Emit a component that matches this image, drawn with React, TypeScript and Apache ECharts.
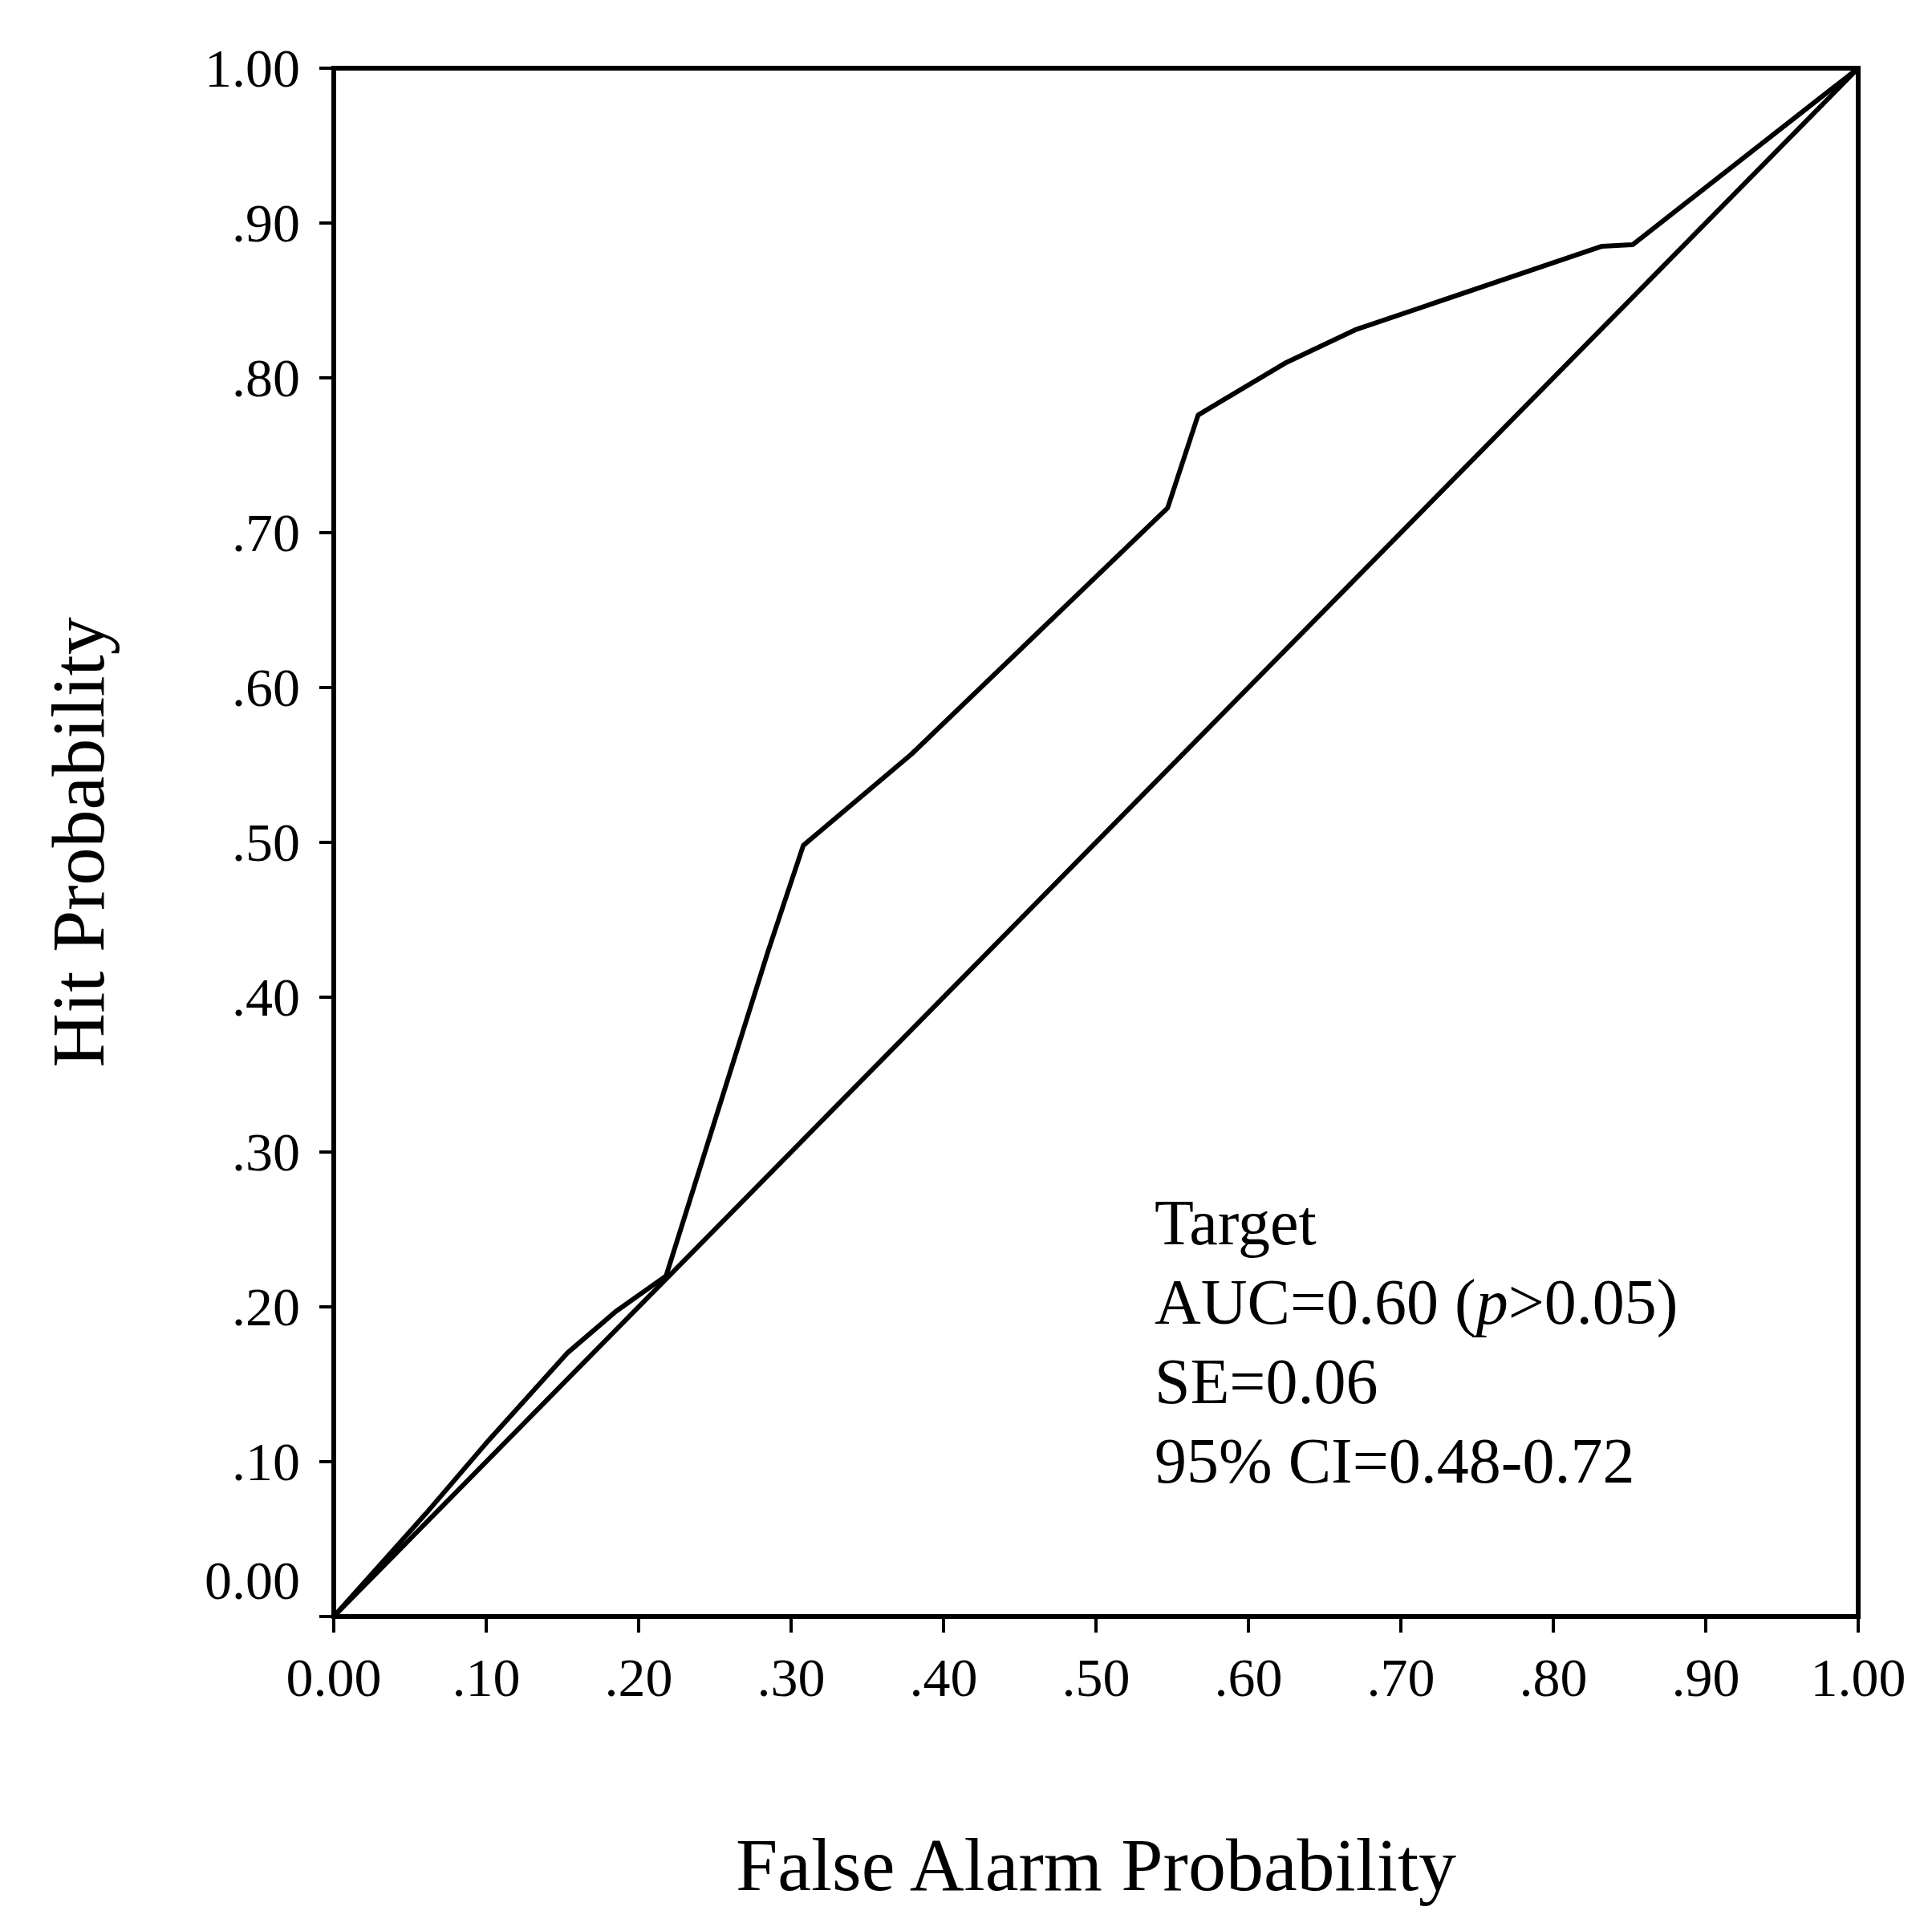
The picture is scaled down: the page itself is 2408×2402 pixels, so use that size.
import React, { useEffect, useRef } from "react";
import * as echarts from "echarts";

// ROC curve (Target)
const rocFalseAlarm = [0, 0.06, 0.10, 0.153, 0.185, 0.218, 0.285, 0.308, 0.379, 0.547, 0.567, 0.625, 0.67, 0.832, 0.852, 1.0];
const rocHit = [0, 0.066, 0.112, 0.170, 0.197, 0.220, 0.43, 0.498, 0.557, 0.716, 0.776, 0.81, 0.831, 0.885, 0.886, 1.0];

// chance diagonal
const chanceX = [0, 1];
const chanceY = [0, 1];

const tickLabels = ["0.00", ".10", ".20", ".30", ".40", ".50", ".60", ".70", ".80", ".90", "1.00"];

const annotationLines = ["Target", "AUC=0.60 ({i|p}>0.05)", "SE=0.06", "95% CI=0.48-0.72"];

const FONT = "'Liberation Serif', 'Times New Roman', serif";

export default function App() {
  const ref = useRef<HTMLDivElement>(null);

  useEffect(() => {
    if (!ref.current) return;
    const chart = echarts.init(ref.current, undefined, { renderer: "svg" });
    const roc = rocFalseAlarm.map((x, i) => [x, rocHit[i]]);
    const chance = chanceX.map((x, i) => [x, chanceY[i]]);

    const labelFor = (v: number) => tickLabels[Math.round(v * 10)] ?? "";

    chart.setOption({
      animation: false,
      backgroundColor: "#ffffff",
      grid: {
        left: 416,
        right: 92,
        top: 85,
        bottom: 387,
        show: true,
        borderColor: "#000",
        borderWidth: 6,
        backgroundColor: "transparent",
      },
      xAxis: {
        type: "value",
        min: 0,
        max: 1,
        interval: 0.1,
        name: "False Alarm Probability",
        nameLocation: "middle",
        nameGap: 262,
        nameTextStyle: { fontFamily: FONT, fontSize: 94, color: "#000" },
        axisLine: { show: true, lineStyle: { color: "#000", width: 6 } },
        axisTick: { show: true, inside: false, length: 20, lineStyle: { color: "#000", width: 4 } },
        axisLabel: {
          margin: 42,
          fontFamily: FONT,
          fontSize: 68,
          color: "#000",
          formatter: (v: number) => labelFor(v),
        },
        splitLine: { show: false },
      },
      yAxis: {
        type: "value",
        min: 0,
        max: 1,
        interval: 0.1,
        name: "Hit Probability",
        nameLocation: "middle",
        nameGap: 272,
        nameTextStyle: { fontFamily: FONT, fontSize: 94, color: "#000" },
        axisLine: { show: true, lineStyle: { color: "#000", width: 6 } },
        axisTick: { show: true, inside: false, length: 18, lineStyle: { color: "#000", width: 4 } },
        axisLabel: {
          margin: 42,
          fontFamily: FONT,
          fontSize: 68,
          color: "#000",
          formatter: (v: number) => (v === 0 ? "{low|" + labelFor(v) + "}" : labelFor(v)),
          rich: {
            low: { fontFamily: FONT, fontSize: 68, color: "#000", padding: [0, 0, 90, 0] },
          },
        },
        splitLine: { show: false },
      },
      series: [
        {
          name: "Chance",
          type: "line",
          data: chance,
          symbol: "none",
          lineStyle: { color: "#000", width: 6 },
          z: 3,
        },
        {
          name: "Target",
          type: "line",
          data: roc,
          symbol: "none",
          lineStyle: { color: "#000", width: 6 },
          z: 4,
        },
      ],
      graphic: [
        {
          type: "text",
          left: 1439,
          top: 1474,
          style: {
            text: annotationLines.join("\n"),
            fontFamily: FONT,
            fontSize: 80,
            lineHeight: 99,
            fill: "#000",
            rich: {
              i: { fontFamily: FONT, fontSize: 80, fontStyle: "italic", lineHeight: 99, fill: "#000" },
            },
          },
        },
      ],
    });
    return () => chart.dispose();
  }, []);

  return (
    <div
      ref={ref}
      style={{ position: "fixed", left: 0, top: 0, width: 2408, height: 2402, background: "#fff" }}
    />
  );
}
